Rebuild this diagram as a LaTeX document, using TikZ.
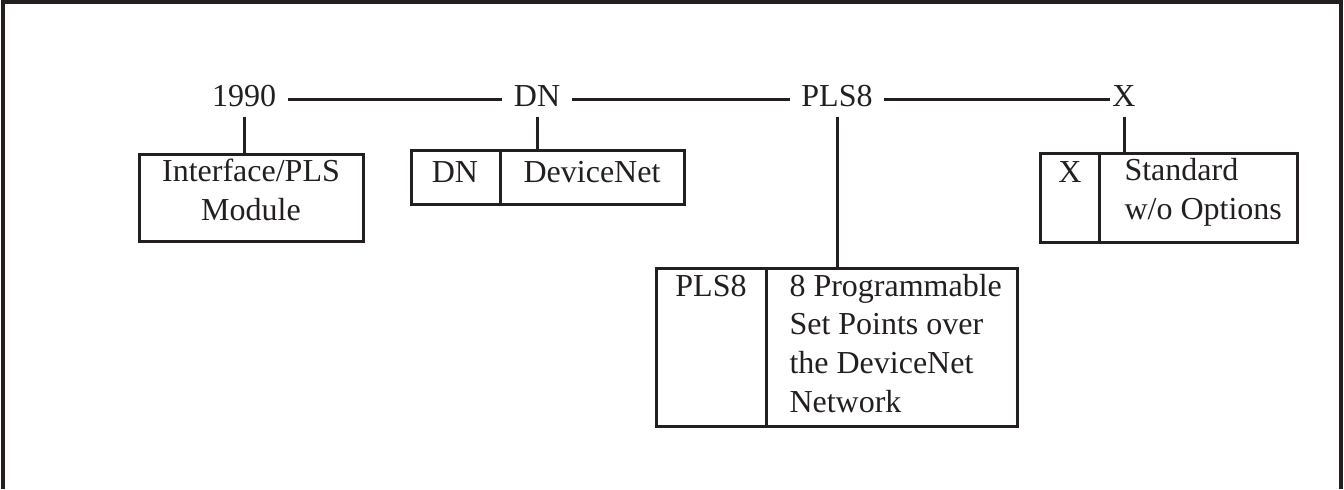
\documentclass[tikz,border=0pt]{standalone}
\usepackage{fontspec}
\setmainfont{Liberation Serif}
\usetikzlibrary{positioning}
\definecolor{ink}{HTML}{231F20}
\tikzset{
  code/.style={inner xsep=5pt, inner ysep=1pt, text height=10.5pt, text depth=3.5pt, anchor=base},
  cell/.style={draw, inner sep=0pt, outer sep=0pt, anchor=north west},
  txt/.style={inner sep=0pt, align=left, anchor=base west},
}
\begin{document}
\begin{tikzpicture}[x=0.5pt, y=-0.5pt, line width=1.5pt, color=ink, font=\fontsize{16}{19.3}\selectfont]
  \useasboundingbox (0,0) rectangle (1344,489);
  \draw[line width=1.7pt] (3,489) -- (3,2) -- (1341,2) -- (1341,489);
  % code line
  \node[code] (year) at (244,106) {1990};
  \node[code] (dn) at (537,106) {DN};
  \node[code] (pls) at (837,106) {PLS8};
  \node[code, inner xsep=0.5pt] (opt) at (1124,106) {X};
  \draw (year) -- (dn);
  \draw (dn) -- (pls);
  \draw (pls) -- (opt);
  % boxes
  \node[cell, minimum width=112pt, minimum height=43.5pt] (yearbox) at (139,154) {};
  \node[cell, minimum width=44.5pt, minimum height=27pt] (dnL) at (411,150) {};
  \node[cell, minimum width=92pt, minimum height=27pt, right=0pt of dnL] (dnR) {};
  \node[cell, minimum width=55pt, minimum height=79pt] (plsL) at (656,268) {};
  \node[cell, minimum width=125.5pt, minimum height=79pt, right=0pt of plsL] (plsR) {};
  \node[cell, minimum width=29.5pt, minimum height=44.5pt] (xL) at (1040,153) {};
  \node[cell, minimum width=99pt, minimum height=44.5pt, right=0pt of xL] (xR) {};
  % texts (multi-line ones sit on their last line)
  \node[txt, anchor=base, align=center] (yeartext) at (251,220) {Interface/PLS\\Module};
  \node[txt, anchor=base] (dnkey) at (455,182) {DN};
  \node[txt, anchor=base] (dntext) at (592,182) {DeviceNet};
  \node[txt, anchor=base] (plskey) at (711,296) {PLS8};
  \node[txt] (plstext) at (788,412) {8 Programmable\\Set Points over\\the DeviceNet\\Network};
  \node[txt, anchor=base] (xkey) at (1070,182) {X};
  \node[txt] (xtext) at (1123,219) {Standard\\w/o Options};
  % stubs
  \draw (year.south) -- (year.south |- yearbox.north);
  \draw (dn.south) -- (dn.south |- dnR.north);
  \draw (pls.south) -- (pls.south |- plsR.north);
  \draw (opt.south) -- (opt.south |- xR.north);
\end{tikzpicture}
\end{document}
